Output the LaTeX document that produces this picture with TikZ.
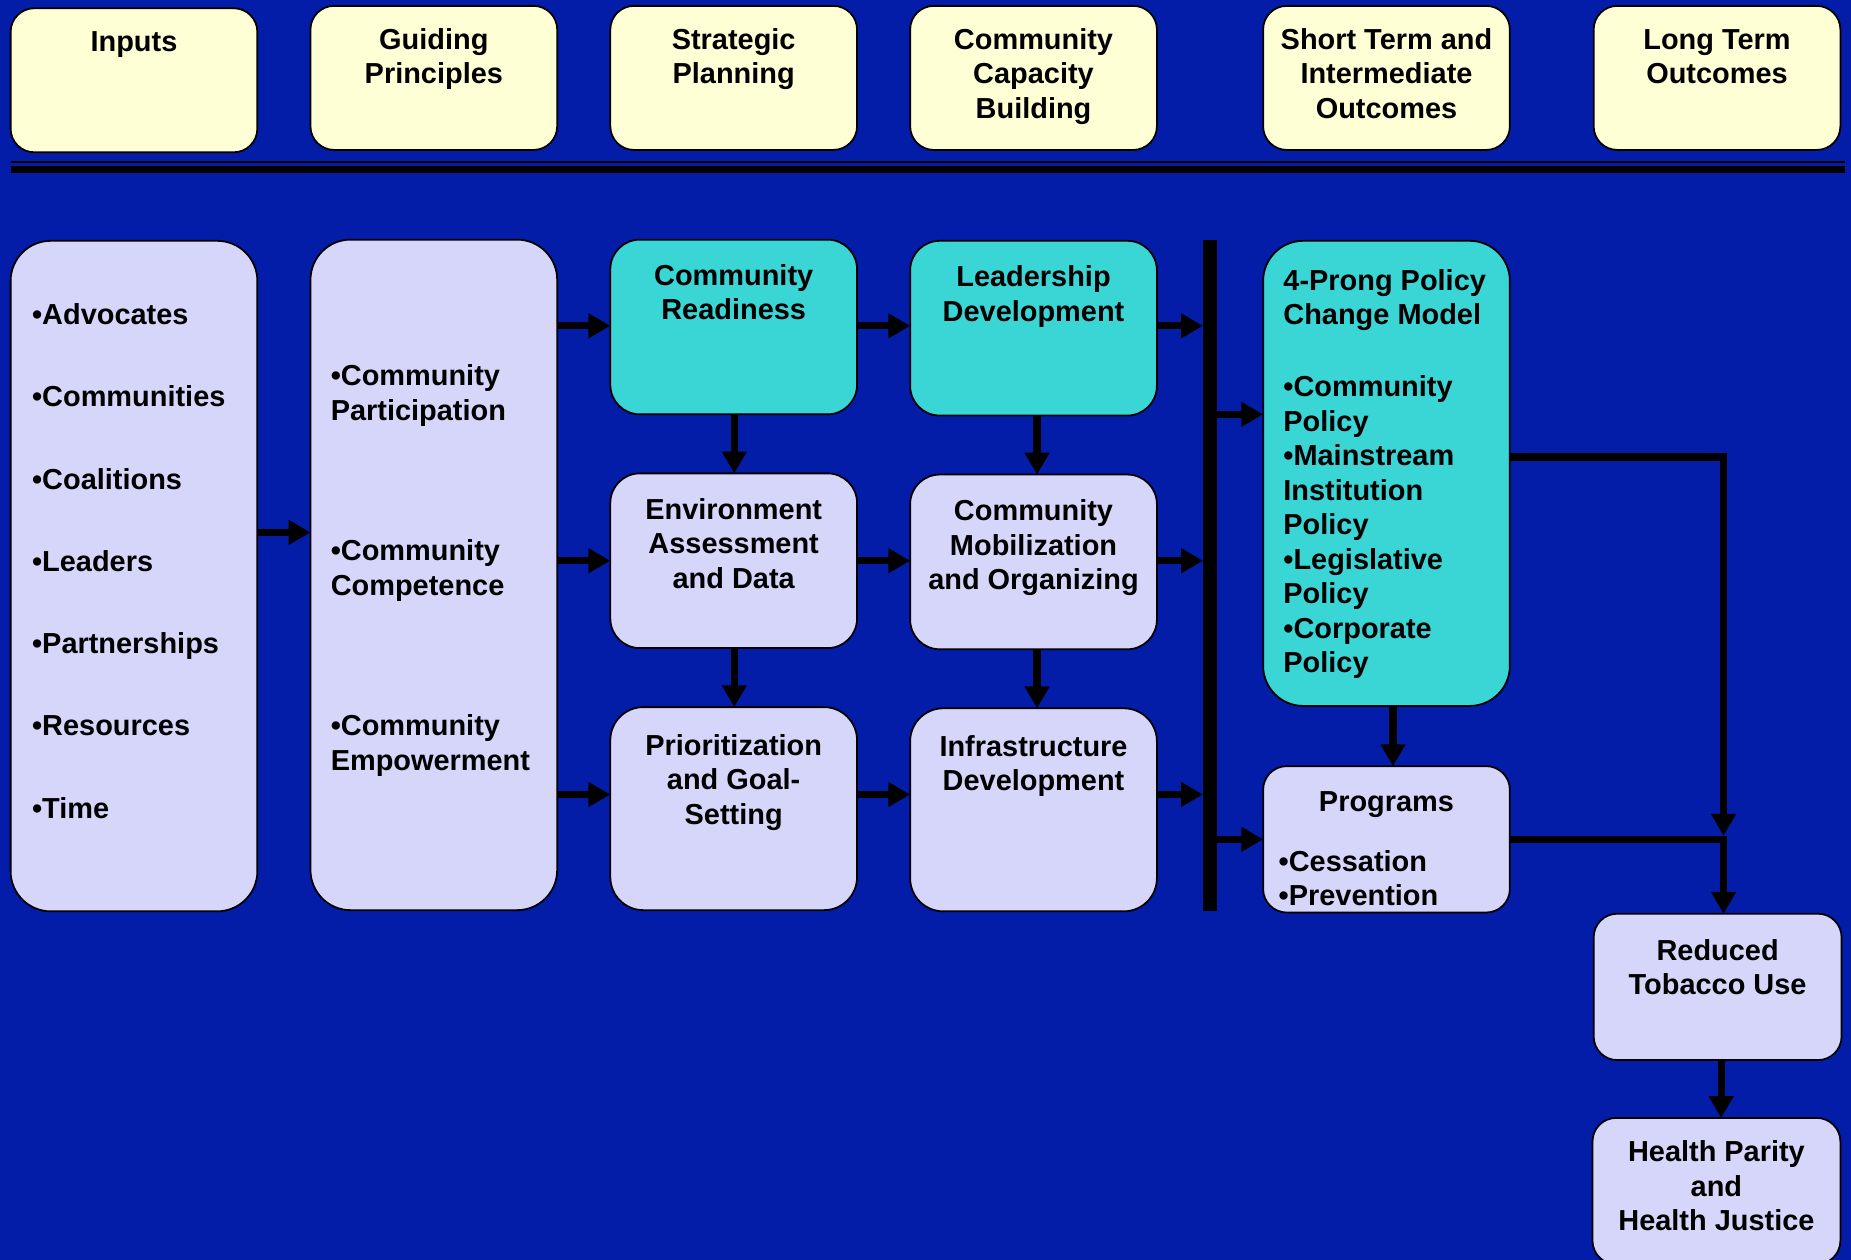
\documentclass[tikz,border=0pt]{standalone}
\usepackage{fontspec}
\setmainfont{Liberation Sans}
\usetikzlibrary{arrows.meta}

\definecolor{bgblue}{HTML}{031DA9}
\definecolor{cream}{HTML}{FFFFD6}
\definecolor{lav}{HTML}{D6D6FA}
\definecolor{tealbox}{HTML}{3AD5D5}

% bold box lettering; \strut height is 0.7 of the 29.2pt line pitch (20.44pt)
\newcommand\boxfont{\fontsize{24.5}{29.2}\selectfont\bfseries}

\tikzset{
  pane/.style={draw=black, line width=1.5pt, anchor=north west, inner sep=0pt, outer sep=0pt},
  head/.style={pane, fill=cream, minimum width=209pt, minimum height=122pt, rounded corners=20pt},
  soft/.style={fill=lav},
  hot/.style={fill=tealbox},
  ctext/.style={anchor=north, inner sep=0pt, align=center, font=\boxfont},
  ltext/.style={anchor=north west, inner sep=0pt, align=left, font=\boxfont},
  arr/.style={line width=6.2pt, -{Triangle[length=18.5pt,width=20pt]}},
}

\begin{document}
\begin{tikzpicture}[x=1pt, y=-1pt]
\useasboundingbox (0,0) rectangle (1568,1067);
\fill[bgblue] (0,0) rectangle (1568,1067);

% ---------- column headers ----------
\node[head] (hIn) at (9,7) {};
\node[head] (hGP) at (263,5) {};
\node[head] (hSP) at (517,5) {};
\node[head] (hCB) at (771,5) {};
\node[head] (hST) at (1070,5) {};
\node[head] (hLT) at (1350,5) {};

\node[ctext] (tIn) at ([yshift=-16.1pt]hIn.north) {\strut Inputs};
\node[ctext] (tGP) at ([yshift=-16.3pt]hGP.north) {\strut Guiding\\Principles};
\node[ctext] (tSP) at ([yshift=-16.3pt]hSP.north) {\strut Strategic\\Planning};
\node[ctext] (tCB) at ([yshift=-16.3pt]hCB.north) {\strut Community\\Capacity\\Building};
\node[ctext] (tST) at ([yshift=-16.3pt]hST.north) {\strut Short Term and\\Intermediate\\Outcomes};
\node[ctext] (tLT) at ([yshift=-16.3pt]hLT.north) {\strut Long Term\\Outcomes};

% ---------- double separator rule ----------
\coordinate (sepL) at (9,137.5);
\coordinate (sepR) at (1563,137.5);
\draw[line width=1.7pt] (sepL) -- (sepR);
\draw[line width=6pt] ([yshift=-6pt]sepL) -- ([yshift=-6pt]sepR);

% ---------- body boxes ----------
\node[pane, soft, minimum width=209pt, minimum height=568pt, rounded corners=34pt] (inp) at (9,204) {};
\node[pane, soft, minimum width=209pt, minimum height=568pt, rounded corners=34pt] (gp) at (263,203) {};
\node[pane, hot, minimum width=209pt, minimum height=148pt, rounded corners=25pt] (cr) at (517,203) {};
\node[pane, hot, minimum width=209pt, minimum height=148pt, rounded corners=25pt] (ld) at (771,204) {};
\node[pane, soft, minimum width=209pt, minimum height=148pt, rounded corners=25pt] (ea) at (517,401) {};
\node[pane, soft, minimum width=209pt, minimum height=148pt, rounded corners=25pt] (cm) at (771,402) {};
\node[pane, soft, minimum width=209pt, minimum height=172pt, rounded corners=28pt] (pg) at (517,599) {};
\node[pane, soft, minimum width=209pt, minimum height=172pt, rounded corners=28pt] (id) at (771,600) {};
\node[pane, hot, minimum width=209pt, minimum height=394pt, rounded corners=34pt] (fp) at (1070,204) {};
\node[pane, soft, minimum width=209pt, minimum height=124pt, rounded corners=20pt] (pr) at (1070,649) {};
\node[pane, soft, minimum width=210pt, minimum height=124pt, rounded corners=20pt] (rt) at (1350,774) {};
\node[pane, soft, minimum width=210pt, minimum height=124pt, rounded corners=20pt] (hp) at (1349,947) {};
\node[fill=black, inner sep=0pt, outer sep=0pt, minimum width=12pt, minimum height=569pt, anchor=north] (bar) at (1025,203) {};

% ---------- body texts ----------
\node[ltext] (inpT) at (27,254.3) {\strut•Advocates\\[40.5pt]•Communities\\[40.5pt]•Coalitions\\[40.5pt]•Leaders\\[40.5pt]•Partnerships\\[40.5pt]•Resources\\[40.5pt]•Time};
\node[ltext] (gpT) at (280,306.3) {\strut•Community\\Participation\\[89.8pt]•Community\\Competence\\[89.8pt]•Community\\Empowerment};
\node[ctext] (crT) at ([yshift=-18.1pt]cr.north) {\strut Community\\Readiness};
\node[ctext] (ldT) at ([yshift=-18.1pt]ld.north) {\strut Leadership\\Development};
\node[ctext] (eaT) at ([yshift=-18.1pt]ea.north) {\strut Environment\\Assessment\\and Data};
\node[ctext] (cmT) at ([yshift=-18.6pt]cm.north) {\strut Community\\Mobilization\\and Organizing};
\node[ctext] (pgT) at ([yshift=-20.1pt]pg.north) {\strut Prioritization\\and Goal-\\Setting};
\node[ctext] (idT) at ([yshift=-20.1pt]id.north) {\strut Infrastructure\\Development};
\node[ltext] (fpT) at (1087,225.3) {\strut 4-Prong Policy\\Change Model\\[31.8pt]•Community\\Policy\\•Mainstream\\Institution\\Policy\\•Legislative\\Policy\\•Corporate\\Policy};
\node[ctext] (prT) at ([yshift=-17.6pt]pr.north) {\strut Programs};
\node[ltext] (prL) at (1083,717.3) {\strut•Cessation\\•Prevention};
\node[ctext] (rtT) at ([yshift=-18.6pt]rt.north) {\strut Reduced\\Tobacco Use};
\node[ctext] (hpT) at ([yshift=-16.6pt]hp.north) {\strut Health Parity\\and\\Health Justice};

% ---------- connector rows and columns ----------
\coordinate (yin) at (0,451);
\coordinate (y1) at (0,276);
\coordinate (y2) at (0,475);
\coordinate (y3) at (0,673);
\coordinate (y4) at (0,351);
\coordinate (y5) at (0,711);
\coordinate (y6) at (0,387);
\coordinate (x3) at (622,0);
\coordinate (x4) at (878.5,0);
\coordinate (x5) at (1180,0);
\coordinate (x6) at (1458,0);
\coordinate (xr) at (1460,0);
\coordinate (join) at (1460,708);

\draw[arr] (inp.east |- yin) -- (gp.west |- yin);
\draw[arr] (gp.east |- y1) -- (cr.west |- y1);
\draw[arr] (gp.east |- y2) -- (ea.west |- y2);
\draw[arr] (gp.east |- y3) -- (pg.west |- y3);
\draw[arr] (cr.east |- y1) -- (ld.west |- y1);
\draw[arr] (ea.east |- y2) -- (cm.west |- y2);
\draw[arr] (pg.east |- y3) -- (id.west |- y3);
\draw[arr] (ld.east |- y1) -- (bar.west |- y1);
\draw[arr] (cm.east |- y2) -- (bar.west |- y2);
\draw[arr] (id.east |- y3) -- (bar.west |- y3);
\draw[arr] (bar.east |- y4) -- (fp.west |- y4);
\draw[arr] (bar.east |- y5) -- (pr.west |- y5);

\draw[arr] (cr.south -| x3) -- (ea.north -| x3);
\draw[arr] (ea.south -| x3) -- (pg.north -| x3);
\draw[arr] (ld.south -| x4) -- (cm.north -| x4);
\draw[arr] (cm.south -| x4) -- (id.north -| x4);
\draw[arr] (fp.south -| x5) -- (pr.north -| x5);

\draw[arr] (fp.east |- y6) -| (join);
\draw[arr] (pr.east |- y5) -| (rt.north -| xr);
\draw[arr] (rt.south -| x6) -- (hp.north -| x6);
\end{tikzpicture}
\end{document}
